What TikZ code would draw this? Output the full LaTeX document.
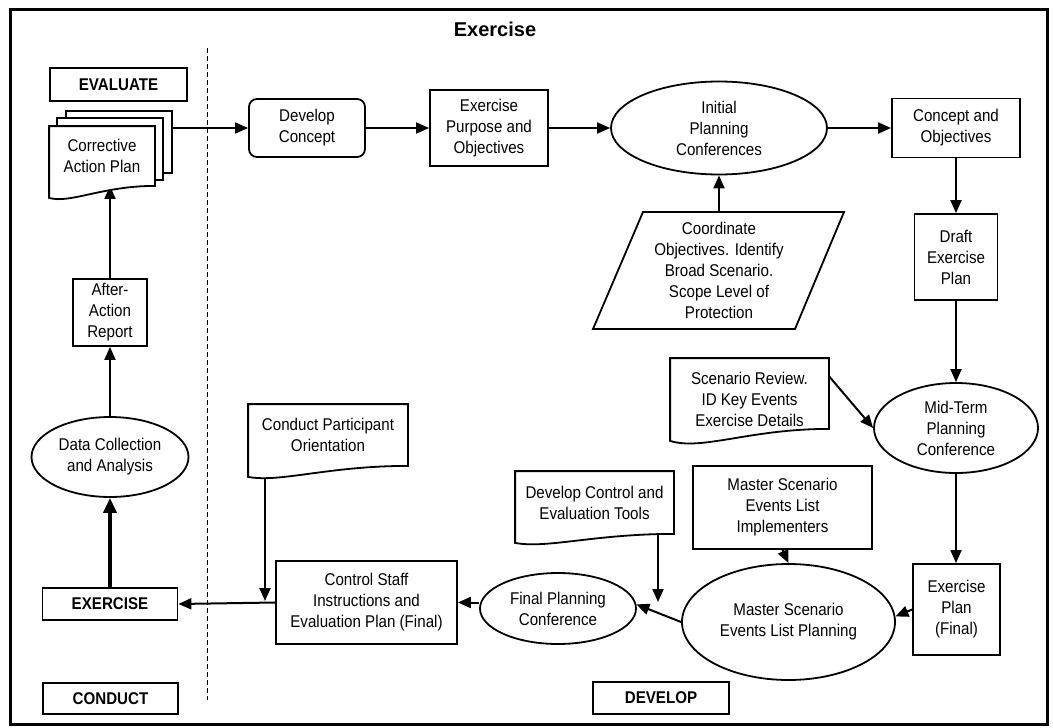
\documentclass[tikz,border=0pt]{standalone}
\usepackage{fontspec}
\setmainfont{Liberation Sans}[FakeStretch=0.89]
\newfontfamily\titlefont{Liberation Sans}
\usetikzlibrary{shapes.geometric,arrows.meta,calc}
\pgfdeclarelayer{background}
\pgfdeclarelayer{docs}
\pgfsetlayers{background,docs,main}
\tikzset{
  base/.style={font=\fontsize{17}{21}\selectfont, align=center, line width=1.8pt, inner sep=2pt},
  box/.style={base, draw, fill=white, rectangle},
  oval/.style={base, draw, fill=white, ellipse, inner sep=0pt},
  docnode/.style={base, rectangle},
  lbl/.style={box, font=\fontsize{17}{21}\selectfont\bfseries},
  arr/.style={line width=2pt, -{Triangle[length=13pt,width=11pt]}},
  thickarr/.style={line width=3.5pt, -{Triangle[length=15pt,width=13pt]}},
  outline/.style={line width=1.8pt, fill=white},
}
% name, right-end offset, left-end offset, dip
\newcommand\docoutline[4]{%
  \draw[outline] (#1.north west) -- (#1.north east) -- ($(#1.south east)+(0,#2)$)
    .. controls ($(#1.south)+(0,#2)$) and ($(#1.south west)!0.4!(#1.south)+(0,#3+#4)$)
    .. ($(#1.south west)+(0,#3)$) -- cycle;}
\begin{document}
\begin{tikzpicture}[x=1pt,y=-1pt]
\useasboundingbox (0,0) rectangle (1053,728);
\draw[line width=3pt] (10,9) rectangle (1047,724);
\node[font=\titlefont\fontsize{20}{24}\selectfont\bfseries] (title) at (495,29) {Exercise};
\draw[line width=0.8pt, dash pattern=on 5pt off 3pt] (207.5,48) -- (207.5,700);

% labels
\node[lbl, minimum width=137, minimum height=33] (evaluate) at (118.5,84.5) {EVALUATE};
\node[lbl, minimum width=135, minimum height=32] (exe) at (110,604) {EXERCISE};
\node[lbl, minimum width=135, minimum height=31] (conduct) at (110.5,698.5) {CONDUCT};
\node[lbl, minimum width=136, minimum height=32] (develop) at (661,698) {DEVELOP};

% corrective action plan stack
\node[docnode, minimum width=104, minimum height=60] (cap3) at (119,142) {};
\node[docnode, minimum width=104, minimum height=60] (cap2) at (110,149) {};
\node[docnode, minimum width=104, minimum height=58] (cap) at (102,156) {Corrective\\Action Plan};
\begin{pgfonlayer}{docs}
  \draw[outline] (cap3.north west) rectangle (cap3.south east);
  \draw[outline] (cap2.north west) rectangle (cap2.south east);
  \docoutline{cap}{0}{12}{6}
\end{pgfonlayer}

% top row
\node[box, rounded corners=8pt, minimum width=116, minimum height=58] (dc) at (307,128) {Develop\\Concept};
\node[box, minimum width=118, minimum height=76] (epo) at (489,128) {Exercise\\Purpose and\\Objectives};
\node[oval, minimum width=216, minimum height=93] (ipc) at (719,128) {Initial\\Planning\\Conferences};
\node[box, minimum width=128, minimum height=59] (cao) at (956,128) {Concept and\\Objectives};
\node[box, minimum width=83, minimum height=86] (dep) at (956,257) {Draft\\Exercise\\Plan};

% parallelogram
\node[base, minimum height=117] (coord) at (719,270.5) {Coordinate\\Objectives. Identify\\Broad Scenario.\\Scope Level of\\Protection};
\begin{pgfonlayer}{docs}
  \draw[outline] (643,212) -- (844,212) -- (795,329) -- (593,329) -- cycle;
\end{pgfonlayer}

% right column
\node[oval, minimum width=164, minimum height=90] (mtp) at (956,428) {Mid-Term\\Planning\\Conference};
\node[docnode, minimum width=157, minimum height=81] (srd) at (749.5,399.5) {Scenario Review.\\ID Key Events\\Exercise Details};
\node[box, minimum width=179, minimum height=83] (msi) at (782.5,507.5) {Master Scenario\\Events List\\Implementers};
\node[oval, minimum width=213, minimum height=116] (msp) at (788.5,622) {Master Scenario\\Events List Planning};
\node[box, minimum width=87, minimum height=91] (epf) at (956.5,609.5) {Exercise\\Plan\\(Final)};

% bottom row
\node[docnode, minimum width=157, minimum height=61] (dct) at (594.5,502.5) {Develop Control and\\Evaluation Tools};
\node[oval, minimum width=156, minimum height=71] (fpc) at (558,608.5) {Final Planning\\Conference};
\node[box, minimum width=181, minimum height=83] (csi) at (366.5,602.5) {Control Staff\\Instructions and\\Evaluation Plan (Final)};
\node[docnode, minimum width=158, minimum height=60] (cpo) at (328,435) {Conduct Participant\\Orientation};

% left column
\node[oval, minimum width=157, minimum height=80] (dca) at (110,457) {Data Collection\\and Analysis};
\node[box, minimum width=74, minimum height=67] (aar) at (110,312.5) {After-\\Action\\Report};

\begin{pgfonlayer}{docs}
  \docoutline{srd}{-12}{0}{10}
  \docoutline{dct}{0}{9}{6}
  \docoutline{cpo}{0}{11}{6}
\end{pgfonlayer}

\coordinate (dctend) at (658,602);
\coordinate (cpoend) at (265,601);

\begin{pgfonlayer}{background}
  \draw[arr] (cap3.east |- dc.west) -- (dc.west);
  \draw[arr] (dc) -- (epo);
  \draw[arr] (epo.east) -- (epo.east -| ipc.west);
  \draw[arr] (ipc.east |- cao.west) -- (cao.west);
  \draw[arr] (cao.south) -- (dep.north);
  \draw[arr] (coord.north) -- (ipc.south);
  \draw[arr] (dep.south) -- (mtp.north);
  \draw[arr] ($(srd.north east)+(0,18)$) -- (mtp.west);
  \draw[arr] (mtp.south) -- (mtp.south |- epf.north);
  \draw[arr] (epf.west) -- (msp.3);
  \draw[arr] (msi.south) -- (msp.north);
  \draw[arr] (dctend |- dct.center) -- (dctend);
  \draw[arr] (msp.west) -- (fpc.3);
  \draw[arr] (fpc.west |- csi.east) -- (csi.east);
  \draw[arr] (cpoend |- cpo.center) -- (cpoend);
  \draw[arr] (csi.west) -- (exe.east);
  \draw[thickarr] (exe.north) -- (dca.south);
  \draw[arr] (dca.north) -- (aar.south);
  \draw[arr] (aar.north) -- (cap.south -| aar.north);
\end{pgfonlayer}
\end{tikzpicture}
\end{document}
